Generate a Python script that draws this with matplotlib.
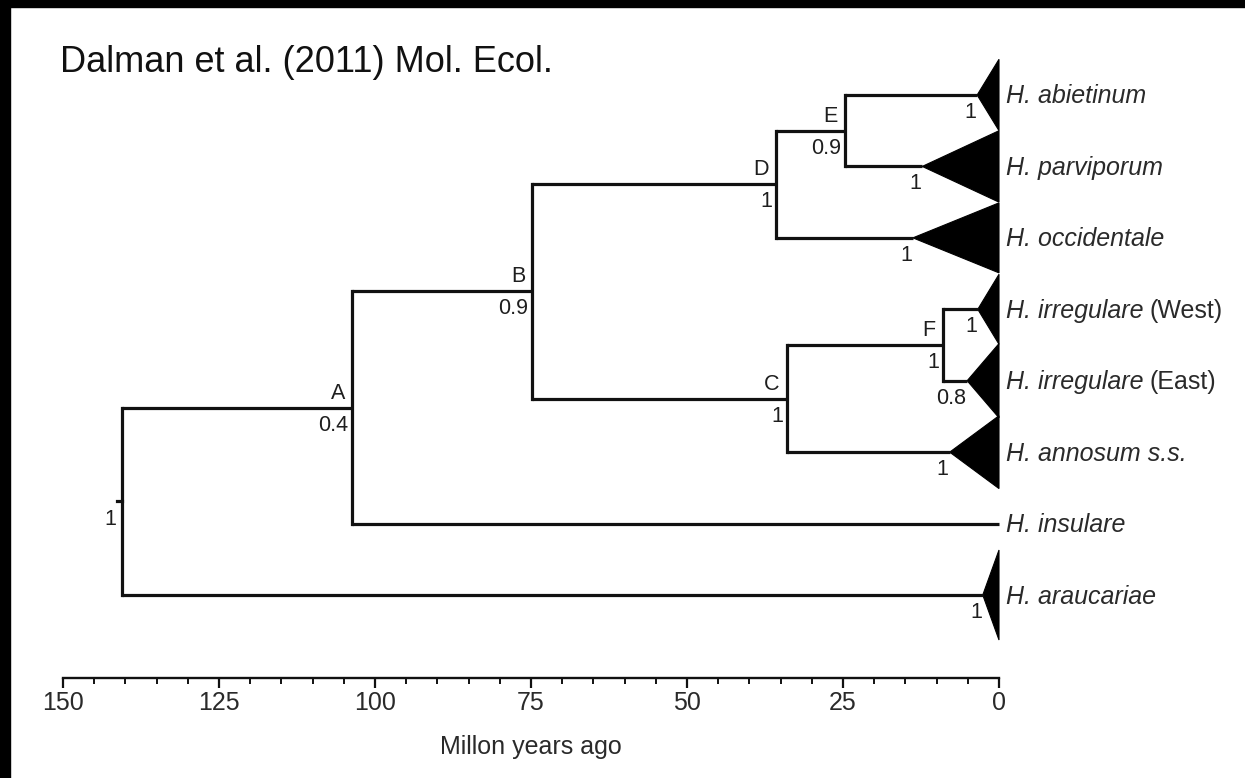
import matplotlib
matplotlib.use("Agg")
import matplotlib.pyplot as plt
from matplotlib.patches import Polygon, Rectangle
from matplotlib.ticker import MultipleLocator
from matplotlib.transforms import offset_copy, IdentityTransform

# ---------------- data ----------------
title = "Dalman et al. (2011) Mol. Ecol."
xlabel = "Millon years ago"

tip_ids = ["abi", "par", "occ", "irrW", "irrE", "ann", "ins", "ara"]
tip_italic = ["H. abietinum", "H. parviporum", "H. occidentale", "H. irregulare",
              "H. irregulare", "H. annosum s.s.", "H. insulare", "H. araucariae"]
tip_suffix = ["", "", "", "(West)", "(East)", "", "", ""]
tip_apex_age = [3.5, 12.3, 13.8, 3.4, 5.1, 7.9, 0.0, 2.6]      # Mya where clade triangle starts
tip_half_height = [0.5, 0.5, 0.49, 0.49, 0.52, 0.51, 0.0, 0.63]  # triangle half height (tip units)
tip_support = ["1", "1", "1", "1", "0.8", "1", "", "1"]

node_ids = ["Root", "A", "B", "C", "D", "E", "F"]
node_age = [140.5, 103.7, 74.8, 34.0, 35.7, 24.7, 9.0]
node_letter = ["", "A", "B", "C", "D", "E", "F"]
node_support = ["1", "0.4", "0.9", "1", "1", "0.9", "1"]
node_children = [("A", "ara"), ("B", "ins"), ("D", "C"), ("F", "ann"),
                 ("E", "occ"), ("abi", "par"), ("irrW", "irrE")]

axis_max = 150
major_step = 25
minor_step = 5

# ---------------- figure ----------------
W, H = 1245, 778
fig = plt.figure(figsize=(W / 100, H / 100), dpi=100)
fig.patch.set_facecolor("white")

FONT = ["Liberation Sans", "DejaVu Sans"]
TXT = "#1e1e1e"
GRAY = "#2a2a2a"

# axes: x 150 -> px 63, x 0 -> px 999; axis line at px 678
ax_left_px, ax_right_px = 63, 999
ax_bottom_px, ax_top_px = 678, 30
tip_y0_px, tip_dy_px = 95, 71.43
ax = fig.add_axes([ax_left_px / W, 1 - ax_bottom_px / H,
                   (ax_right_px - ax_left_px) / W, (ax_bottom_px - ax_top_px) / H])
ax.set_xlim(axis_max, 0)
ax.set_ylim((ax_bottom_px - tip_y0_px) / tip_dy_px, (ax_top_px - tip_y0_px) / tip_dy_px)
ax.patch.set_alpha(0)

for s in ["top", "left", "right"]:
    ax.spines[s].set_visible(False)
ax.spines["bottom"].set_linewidth(1.7)
ax.spines["bottom"].set_color("#111111")
ax.set_yticks([])
ax.xaxis.set_major_locator(MultipleLocator(major_step))
ax.xaxis.set_minor_locator(MultipleLocator(minor_step))
ax.tick_params(axis="x", which="major", length=7.5, width=1.6, direction="out",
               color="#111111", labelsize=18, labelcolor=GRAY, pad=2)
ax.tick_params(axis="x", which="minor", length=4.5, width=1.4, direction="out",
               color="#111111")
for lab in ax.get_xticklabels():
    lab.set_fontfamily(FONT)

# ---------------- tree geometry ----------------
tip_y = {t: i for i, t in enumerate(tip_ids)}
tip_idx = {t: i for i, t in enumerate(tip_ids)}
node_idx = {n: i for i, n in enumerate(node_ids)}

ypos = {}
xpos = {}


def resolve(name):
    if name in tip_idx:
        i = tip_idx[name]
        ypos[name] = tip_y[name]
        xpos[name] = tip_apex_age[i]
        return ypos[name]
    i = node_idx[name]
    c1, c2 = node_children[i]
    y = (resolve(c1) + resolve(c2)) / 2.0
    ypos[name] = y
    xpos[name] = node_age[i]
    return y


resolve("Root")

LW = 2.3
LC = "#111111"
for i, n in enumerate(node_ids):
    c1, c2 = node_children[i]
    x = xpos[n]
    ax.plot([x, x], [ypos[c1], ypos[c2]], color=LC, lw=LW, solid_capstyle="projecting")
    for c in (c1, c2):
        ax.plot([x, xpos[c]], [ypos[c], ypos[c]], color=LC, lw=LW,
                solid_capstyle="butt", clip_on=False)

# root stem tick
ax.plot([xpos["Root"] + 0.8, xpos["Root"]], [ypos["Root"], ypos["Root"]], color=LC, lw=LW)

# clade triangles
for i, t in enumerate(tip_ids):
    h = tip_half_height[i]
    if h > 0:
        y = tip_y[t]
        a = tip_apex_age[i]
        ax.add_patch(Polygon([(a, y), (0, y - h), (0, y + h)], closed=True,
                             facecolor="black", edgecolor="black", lw=0.8, clip_on=False))


def off(dx, dy):
    return offset_copy(ax.transData, fig=fig, x=dx, y=dy, units="dots")


NS = 15.5
# node labels
for i, n in enumerate(node_ids):
    x, y = xpos[n], ypos[n]
    if node_letter[i]:
        ax.text(x, y, node_letter[i], transform=off(-7, 9), ha="right", va="baseline",
                fontsize=NS, color=TXT, family=FONT)
    if n == "Root":
        ax.text(x, y, node_support[i], transform=off(-6, -24), ha="right", va="baseline",
                fontsize=NS, color=TXT, family=FONT)
    else:
        ax.text(x, y, node_support[i], transform=off(-4, -23), ha="right", va="baseline",
                fontsize=NS, color=TXT, family=FONT)

# tip supports
for i, t in enumerate(tip_ids):
    if tip_support[i]:
        ax.text(tip_apex_age[i], tip_y[t], tip_support[i], transform=off(-1, -23),
                ha="right", va="baseline", fontsize=NS, color=TXT, family=FONT)

# tip labels
TS = 18
it_texts = []
for i, t in enumerate(tip_ids):
    tx = ax.text(0, tip_y[t], tip_italic[i], transform=off(7, -8.5), ha="left",
                 va="baseline", fontsize=TS, style="italic", color=GRAY, family=FONT)
    it_texts.append(tx)

# title and axis label
fig.text(60 / W, 1 - 72 / H, title, ha="left", va="baseline", fontsize=26,
         color="#111111", family=FONT)
fig.text((ax_left_px + ax_right_px) / 2 / W, 1 - 754 / H, xlabel, ha="center",
         va="baseline", fontsize=18, color=GRAY, family=FONT)

# black frame on top and left edges
fig.patches.append(Rectangle((0, 1 - 7 / H), 1, 7 / H, transform=fig.transFigure,
                             color="black", zorder=10))
fig.patches.append(Rectangle((0, 0), 10 / W, 1, transform=fig.transFigure,
                             color="black", zorder=10))

# suffixes placed after italic parts
fig.canvas.draw()
renderer = fig.canvas.get_renderer()
for i, tx in enumerate(it_texts):
    if tip_suffix[i]:
        bb = tx.get_window_extent(renderer=renderer)
        x0, y0 = tx.get_transform().transform((0, tip_y[tip_ids[i]]))
        fig.text(bb.x1 + 6, y0, tip_suffix[i], transform=IdentityTransform(),
                 ha="left", va="baseline", fontsize=TS, color=GRAY, family=FONT)

fig.savefig("out.png", dpi=100, facecolor="white")
